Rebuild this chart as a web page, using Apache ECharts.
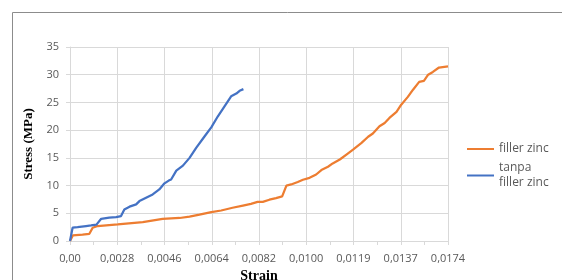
<!DOCTYPE html>
<html>
<head>
<meta charset="utf-8">
<script src="https://cdn.jsdelivr.net/npm/echarts@6/dist/echarts.min.js"></script>
<style>
html,body{margin:0;padding:0;background:#fff;}
#chart{width:562px;height:280px;}
</style>
</head>
<body>
<div id="chart"></div>
<script>
// x positions are read along the category axis (10 steps between labelled points)
var tickLabels=['0,00','0,0028','0,0046','0,0064','0,0082','0,0100','0,0119','0,0137','0,0174'];

var fillerPos=[0,0.6,2.65,4.1,4.8,5.85,10.1,15.4,19.6,23.2,25.3,27.4,29.9,32.0,34.4,36.6,38.3,39.7,40.8,42.2,43.6,44.9,45.8,46.8,48.2,49.3,50.7,52.1,53.2,54.6,55.6,57.1,58.5,59.9,61.7,63.1,64.1,65.5,66.6,67.6,69.1,70.1,71.5,72.6,73.9,74.9,75.8,76.8,78.1,80];
var fillerStress=[0,1.0,1.15,1.3,2.4,2.7,3.0,3.4,4.0,4.15,4.4,4.75,5.2,5.5,6.0,6.4,6.7,7.05,7.05,7.45,7.75,8.05,10.0,10.2,10.65,11.05,11.4,12.0,12.8,13.4,14.0,14.7,15.6,16.5,17.7,18.8,19.4,20.7,21.3,22.2,23.3,24.6,26.0,27.3,28.7,28.9,30.0,30.5,31.3,31.5];

var tanpaPos=[0,0.55,1.6,3.4,4.45,5.6,6.6,8.3,9.75,10.8,11.5,12.6,14.0,14.7,16.1,17.5,18.9,20.0,20.9,21.4,22.5,23.9,25.3,26.7,28.5,29.9,31.3,32.7,34.1,35.2,35.9,36.7];
var tanpaStress=[0,2.4,2.5,2.7,2.8,2.95,4.0,4.2,4.3,4.5,5.7,6.2,6.6,7.2,7.8,8.4,9.3,10.4,10.9,11.1,12.7,13.6,15.0,16.8,18.9,20.5,22.5,24.3,26.1,26.6,27.1,27.4];

function pairs(xs,ys){
    var out=[];
    for(var i=0;i<xs.length;i++){
        out.push([xs[i],ys[i]]);
    }
    return out;
}

var chart=echarts.init(document.getElementById('chart'));
var gridColor='#d9d9d9';
var textColor='#595959';

var option={
    animation:false,
    graphic:[{
        type:'rect',
        shape:{x:12.5,y:12.5,width:640,height:340},
        style:{fill:'none',stroke:'#8c8c8c',lineWidth:1},
        silent:true
    }],
    grid:{left:70,right:114,top:47,bottom:39,outerBoundsMode:'none'},
    legend:[{
        data:['filler zinc'],
        left:467,
        top:141.5,
        padding:0,
        icon:'rect',
        itemWidth:27,
        itemHeight:2,
        textStyle:{fontFamily:'Open Sans',fontSize:12,color:textColor,lineHeight:15}
    },{
        data:['tanpa\nfiller zinc'],
        left:467,
        top:153,
        padding:0,
        icon:'rect',
        itemWidth:27,
        itemHeight:2,
        textStyle:{fontFamily:'Open Sans',fontSize:12,color:textColor,lineHeight:15,padding:[15,0,0,0]}
    }],
    xAxis:{
        type:'value',
        min:0,
        max:80,
        interval:10,
        name:'Strain',
        nameLocation:'middle',
        nameGap:22,
        nameTextStyle:{fontFamily:'Liberation Serif',fontWeight:'bold',fontSize:14,color:'#000'},
        axisLine:{show:true,lineStyle:{color:gridColor}},
        axisTick:{show:true,length:4,lineStyle:{color:gridColor}},
        minorTick:{show:true,splitNumber:2,length:4,lineStyle:{color:gridColor}},
        splitLine:{show:true,lineStyle:{color:gridColor}},
        axisLabel:{
            margin:12,
            fontFamily:'Open Sans',
            fontSize:11,
            color:textColor,
            formatter:function(v){return tickLabels[Math.round(v/10)];}
        }
    },
    yAxis:{
        type:'value',
        min:0,
        max:35,
        interval:5,
        name:'Stress (MPa)',
        nameLocation:'middle',
        nameGap:30,
        nameTextStyle:{fontFamily:'Liberation Serif',fontWeight:'bold',fontSize:13,color:'#000'},
        axisLine:{show:true,lineStyle:{color:gridColor}},
        axisTick:{show:true,length:4,lineStyle:{color:gridColor}},
        splitLine:{show:true,lineStyle:{color:gridColor}},
        axisLabel:{margin:11,fontFamily:'Open Sans',fontSize:11,color:textColor}
    },
    series:[{
        name:'filler zinc',
        type:'line',
        showSymbol:false,
        color:'#ED7D31',
        lineStyle:{width:2.25,color:'#ED7D31'},
        data:pairs(fillerPos,fillerStress)
    },{
        name:'tanpa\nfiller zinc',
        type:'line',
        showSymbol:false,
        color:'#4472C4',
        lineStyle:{width:2.25,color:'#4472C4'},
        data:pairs(tanpaPos,tanpaStress)
    }]
};
chart.setOption(option);
</script>
</body>
</html>
